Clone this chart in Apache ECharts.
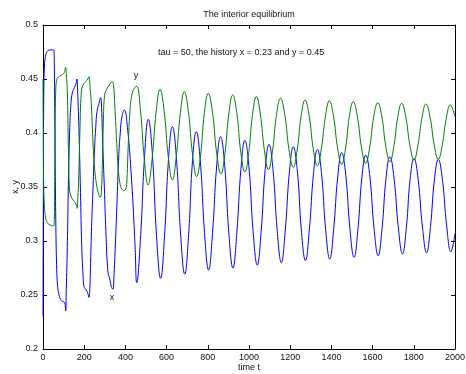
<!DOCTYPE html>
<html>
<head>
<meta charset="utf-8">
<script src="https://cdn.jsdelivr.net/npm/echarts@6/dist/echarts.min.js"></script>
<style>html,body{margin:0;padding:0;background:#fff;}#c{width:466px;height:374px;}</style>
</head>
<body>
<div id="c"></div>
<script>
// time samples and values
const xTimes = [0,2,4,7,12,20,30,52,55,58,62,66,71,78,89,100,106,110,113,118,124,130,136,142,150,156,162,165,168,175,182,188,194,199,210,217,223,227,231,237,243,250,256,262,272,280,283,290,299,305,315,325,332,339,345,352,360,368,375,383,395,410,430,447,
455,474,492,511,531,551,571,590,609,628,648,668,688,707,725,744,764,784,804,823,843,862,882,902,922,941,961,980,1000,1020,1040,1059,1078,1097,1117,1137,1157,1176,1196,1215,1235,1254,1274,1293,1313,1332,1352,1372,1392,1411,1431,1450,1470,1490,1510,1529,1548,1567,1587,1607,1627,1646,1665,1684,1704,1725,1745,1764,1782,1801,1821,1842,1862,1881,1900,1919,1939,1960,1980,2000];
const xValues = [0.23,0.36,0.44,0.462,0.471,0.4755,0.4768,0.477,0.46,0.40,0.32,0.278,0.258,0.25,0.2447,0.2437,0.2425,0.2352,0.255,0.295,0.36,0.405,0.428,0.437,0.441,0.4435,0.447,0.45,0.44,0.40,0.345,0.295,0.27,0.2577,0.2546,0.252,0.2478,0.255,0.279,0.32,0.35,0.385,0.405,0.4198,0.4275,0.4327,0.43,0.39,0.343,0.31,0.272,0.264,0.2577,0.2553,0.27,0.30,0.34,0.38,0.40,0.415,0.4213,0.405,0.3565,0.295,
0.2614,0.305,0.375,0.4127,0.3803,0.3052,0.2655,0.3048,0.375,0.4059,0.3759,0.3063,0.2694,0.3063,0.3722,0.4012,0.373,0.3077,0.2731,0.3077,0.3694,0.3966,0.3698,0.3078,0.275,0.3081,0.3672,0.3932,0.3678,0.3089,0.2777,0.309,0.3648,0.3894,0.3653,0.3095,0.28,0.31,0.3637,0.3873,0.3641,0.3103,0.2818,0.3107,0.3622,0.3849,0.3625,0.3107,0.2833,0.3109,0.3601,0.3818,0.3605,0.3111,0.2849,0.3114,0.3588,0.3796,0.3591,0.3116,0.2864,0.312,0.3578,0.378,0.3582,0.3123,0.288,0.3128,0.357,0.3765,0.3573,0.3128,0.2892,0.3134,0.3566,0.3756,0.3568,0.3132,0.2901,0.307];

const yTimes = [0,1,3,6,10,18,34,53,55,57,59,62,66,75,90,100,105,110,113,118,124,129,137,146,157,162,165,169,173,179,186,194,206,215,223,228,235,243,251,259,267,278,283,288,293,299,310,320,335,342,350,358,366,375,383,392,400,406,414,422,432,445,
455,473,492,510,529,549,568,588,608,628,647,667,686,706,726,746,765,783,802,823,843,864,883,902,921,941,960,980,999,1017,1036,1055,1075,1094,1114,1133,1153,1174,1194,1215,1234,1253,1272,1292,1312,1332,1351,1371,1390,1410,1430,1450,1469,1487,1506,1526,1546,1566,1586,1605,1625,1645,1664,1684,1703,1722,1741,1761,1781,1801,1820,1840,1859,1879,1899,1919,1938,1958,1977,2000];
const yValues = [0.45,0.40,0.355,0.335,0.3256,0.318,0.3148,0.3139,0.32,0.36,0.41,0.44,0.4485,0.452,0.4535,0.455,0.4568,0.4608,0.455,0.438,0.38,0.3472,0.341,0.338,0.3355,0.333,0.3303,0.34,0.3565,0.40,0.438,0.4444,0.4475,0.449,0.4522,0.443,0.425,0.39,0.3657,0.3534,0.3457,0.3404,0.345,0.37,0.41,0.435,0.441,0.444,0.4475,0.445,0.42,0.39,0.365,0.352,0.348,0.3466,0.3475,0.352,0.39,0.42,0.436,0.442,
0.4432,0.4213,0.3756,0.3519,0.3749,0.4192,0.4404,0.4203,0.3783,0.3565,0.3778,0.4187,0.4383,0.4194,0.3801,0.3596,0.3796,0.4182,0.4367,0.4188,0.3814,0.362,0.381,0.4176,0.4352,0.4181,0.3825,0.364,0.3821,0.417,0.4338,0.4175,0.3836,0.366,0.3832,0.4163,0.4322,0.4168,0.3848,0.3682,0.3844,0.4156,0.4306,0.4159,0.3853,0.3694,0.3851,0.4154,0.4299,0.4158,0.3863,0.371,0.3861,0.4151,0.429,0.4153,0.3868,0.372,0.3866,0.4146,0.428,0.4149,0.3877,0.3735,0.3875,0.4145,0.4275,0.4149,0.3887,0.375,0.3885,0.4144,0.4269,0.4146,0.3889,0.3756,0.3887,0.4139,0.426,0.4151];

const titleText = 'The interior equilibrium';
const noteText = 'tau = 50, the history x = 0.23 and y = 0.45';
const xAxisName = 'time t';
const yAxisName = 'x, y';

const FONT = '"Liberation Sans", Arial, Helvetica, sans-serif';
const chart = echarts.init(document.getElementById('c'), null, {renderer: 'canvas'});
const pairs = (ts, vs) => ts.map((t, i) => [t, vs[i]]);
const axisCommon = {
  axisLine: {show: true, onZero: false, lineStyle: {color: '#000', width: 1}},
  axisTick: {show: true, inside: true, length: 4, lineStyle: {color: '#000'}},
  splitLine: {show: false}
};
chart.setOption({
  animation: false,
  backgroundColor: '#fff',
  grid: {left: 43, right: 11, top: 25, bottom: 25, containLabel: false, outerBoundsMode: 'none'},
  xAxis: [
    Object.assign({type: 'value', min: 0, max: 2000, interval: 200, position: 'bottom',
      name: xAxisName, nameLocation: 'middle', nameGap: 14, nameMoveOverlap: false,
      nameTextStyle: {fontFamily: FONT, fontSize: 9, color: '#111'},
      axisLabel: {fontFamily: FONT, fontSize: 9, color: '#111', margin: 4, formatter: v => String(v)}}, axisCommon),
    Object.assign({type: 'value', min: 0, max: 2000, interval: 200, position: 'top',
      axisLabel: {show: false}}, axisCommon)
  ],
  yAxis: [
    Object.assign({type: 'value', min: 0.2, max: 0.5, interval: 0.05, position: 'left',
      name: yAxisName, nameLocation: 'middle', nameGap: 23, nameMoveOverlap: false,
      nameTextStyle: {fontFamily: FONT, fontSize: 9, color: '#111'},
      axisLabel: {fontFamily: FONT, fontSize: 9, color: '#111', margin: 5, formatter: v => String(+v.toFixed(2))}}, axisCommon),
    Object.assign({type: 'value', min: 0.2, max: 0.5, interval: 0.05, position: 'right',
      axisLabel: {show: false}}, axisCommon)
  ],
  series: [
    {type: 'line', name: 'x', xAxisIndex: 0, yAxisIndex: 0, data: pairs(xTimes, xValues),
     showSymbol: false, smooth: 0.45, lineStyle: {color: '#0000ff', width: 1}},
    {type: 'line', name: 'y', xAxisIndex: 0, yAxisIndex: 0, data: pairs(yTimes, yValues),
     showSymbol: false, smooth: 0.45, lineStyle: {color: '#008000', width: 1}}
  ],
  graphic: [
    {type: 'text', x: 249, y: 15, style: {text: titleText, font: '9px ' + FONT, fill: '#111', textAlign: 'center', textVerticalAlign: 'middle'}},
    {type: 'text', x: 158, y: 53, style: {text: noteText, font: '9px ' + FONT, fill: '#111', textAlign: 'left', textVerticalAlign: 'middle'}},
    {type: 'text', x: 136, y: 76, style: {text: 'y', font: '9px ' + FONT, fill: '#111', textAlign: 'center', textVerticalAlign: 'middle'}},
    {type: 'text', x: 112, y: 298, style: {text: 'x', font: '9px ' + FONT, fill: '#111', textAlign: 'center', textVerticalAlign: 'middle'}}
  ]
});
</script>
</body>
</html>
